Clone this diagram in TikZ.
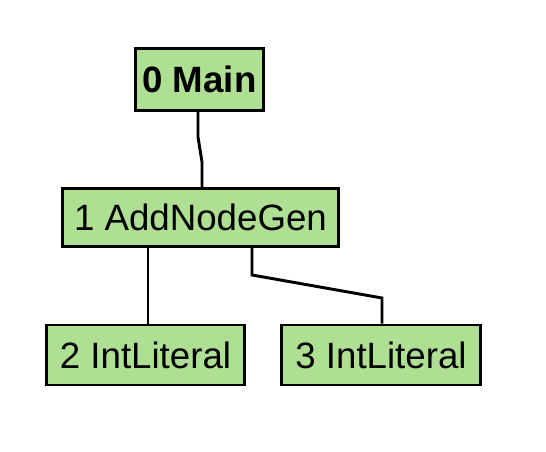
\documentclass[tikz,border=0pt]{standalone}
\usepackage{fontspec}
\setmainfont{Liberation Sans}
\definecolor{boxgreen}{RGB}{174,223,146}
\begin{document}
\begin{tikzpicture}[x=0.75pt,y=-0.75pt,
  treebox/.style={draw=black, fill=boxgreen, line width=2.2pt, inner sep=0pt, rectangle,
    font=\fontsize{27.5}{32}\selectfont},
  link/.style={draw=black, line width=2.2pt}]
\useasboundingbox (0,0) rectangle (546,452);
\node[treebox, minimum width=96pt, minimum height=46.5pt, font=\fontsize{27.5}{32}\selectfont\bfseries] (m) at (199.5,79.5) {0 Main};
\node[treebox, minimum width=207pt, minimum height=43.5pt] (a) at (200.5,217.5) {1 AddNodeGen};
\node[treebox, minimum width=149pt, minimum height=45pt] (b) at (145.5,355) {2 IntLiteral};
\node[treebox, minimum width=149pt, minimum height=45pt] (c) at (381,355) {3 IntLiteral};
\coordinate (k1) at (198,137);
\coordinate (k2) at (202,162);
\coordinate (k3) at (148,280);
\coordinate (k4) at (252,275);
\coordinate (k5) at (382,298);
\draw[link] (m.south -| k1) -- (k1) -- (k2) -- (k2 |- a.north);
\draw[link] (a.south -| k3) -- (k3 |- b.north);
\draw[link] (a.south -| k4) -- (k4) -- (k5) -- (k5 |- c.north);
\end{tikzpicture}
\end{document}
